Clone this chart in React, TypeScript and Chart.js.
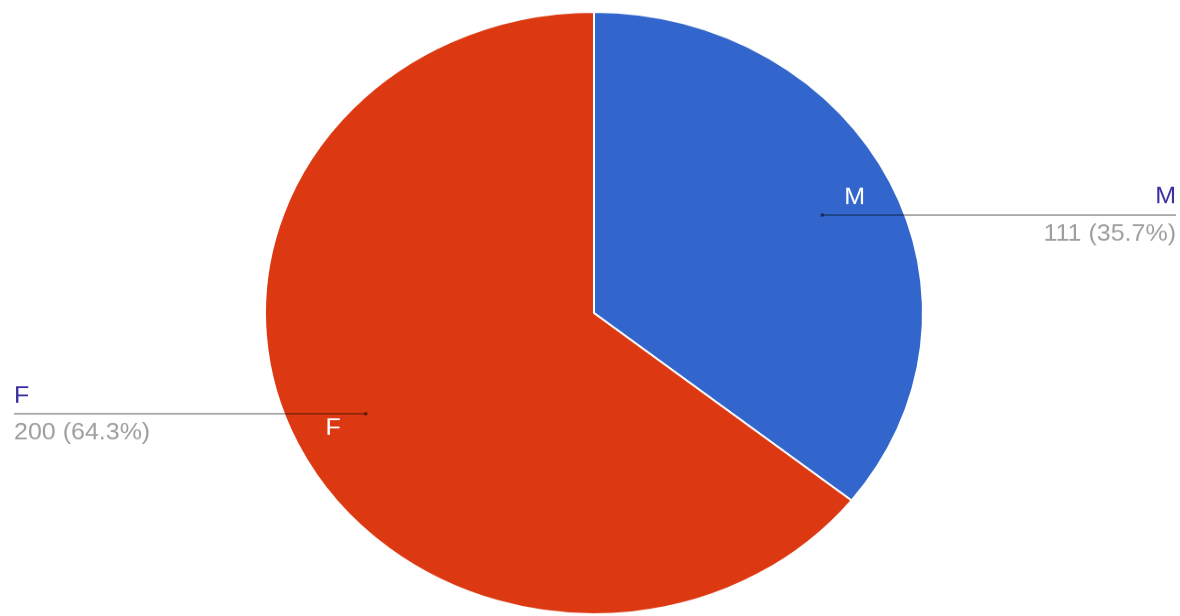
import React, { useEffect, useRef } from "react";
import { Chart, registerables } from "chart.js";

Chart.register(...registerables);

const categories: string[] = ["M", "F"];
const values: number[] = [111, 200];
const sliceColors: string[] = ["#3366CC", "#DC3912"];
const labelColor = "#3a2f9f";
const valueColor = "#9e9e9e";

const CANVAS_W = 1180;
const CANVAS_H = 673; // drawn then displayed squeezed to 616 tall
const DISPLAY_H = 616;
const FONT = '"Liberation Sans", Arial, sans-serif';

const labelPlugin = {
  id: "sideLabels",
  afterDatasetsDraw(chart: any) {
    const ctx = chart.ctx;
    const meta = chart.getDatasetMeta(0);
    const total = values.reduce((a, b) => a + b, 0);
    ctx.save();
    meta.data.forEach((arc: any, i: number) => {
      const { x, y, startAngle, endAngle, outerRadius } = arc.getProps(
        ["x", "y", "startAngle", "endAngle", "outerRadius"],
        true
      );
      const mid = (startAngle + endAngle) / 2;
      const cos = Math.cos(mid);
      const sin = Math.sin(mid);
      // inner label
      const ir = outerRadius * 0.88;
      ctx.fillStyle = "#ffffff";
      ctx.font = `25px ${FONT}`;
      ctx.textAlign = "center";
      ctx.textBaseline = "middle";
      ctx.fillText(categories[i], x + ir * cos, y + ir * sin);
      // leader line
      const dr = outerRadius * 0.77;
      const dx = x + dr * cos;
      const dy = y + dr * sin + (cos >= 0 ? 3 : 0);
      const right = cos >= 0;
      const endX = right ? 1176 : 14;
      ctx.strokeStyle = "rgba(0,0,0,0.34)";
      ctx.lineWidth = 2;
      ctx.beginPath();
      ctx.moveTo(dx, dy);
      ctx.lineTo(endX, dy);
      ctx.stroke();
      ctx.fillStyle = "rgba(0,0,0,0.45)";
      ctx.beginPath();
      ctx.arc(dx, dy, 2, 0, Math.PI * 2);
      ctx.fill();
      // outer labels
      const pct = ((values[i] / total) * 100).toFixed(1);
      ctx.textAlign = right ? "right" : "left";
      ctx.textBaseline = "alphabetic";
      ctx.font = `25px ${FONT}`;
      ctx.fillStyle = labelColor;
      ctx.fillText(categories[i], endX, dy - 12.5);
      ctx.fillStyle = valueColor;
      ctx.fillText(`${values[i]} (${pct}%)`, endX, dy + 28);
    });
    ctx.restore();
  },
};

export default function App() {
  const ref = useRef<HTMLCanvasElement>(null);
  useEffect(() => {
    if (!ref.current) return;
    const chart = new Chart(ref.current, {
      type: "pie",
      data: {
        labels: categories,
        datasets: [
          {
            data: values,
            backgroundColor: sliceColors,
            borderColor: "#ffffff",
            borderWidth: 2,
          },
        ],
      },
      options: {
        responsive: false,
        animation: false,
        devicePixelRatio: 1,
        layout: { padding: { left: 264, right: 256, top: 12, bottom: 1 } },
        plugins: {
          legend: { display: false },
          tooltip: { enabled: false },
        },
      },
      plugins: [labelPlugin],
    });
    return () => chart.destroy();
  }, []);
  return (
    <div style={{ position: "fixed", left: 0, top: 0, width: CANVAS_W, height: DISPLAY_H, background: "#fff" }}>
      <canvas
        ref={ref}
        width={CANVAS_W}
        height={CANVAS_H}
        style={{ width: CANVAS_W + "px", height: DISPLAY_H + "px", display: "block" }}
      />
    </div>
  );
}
